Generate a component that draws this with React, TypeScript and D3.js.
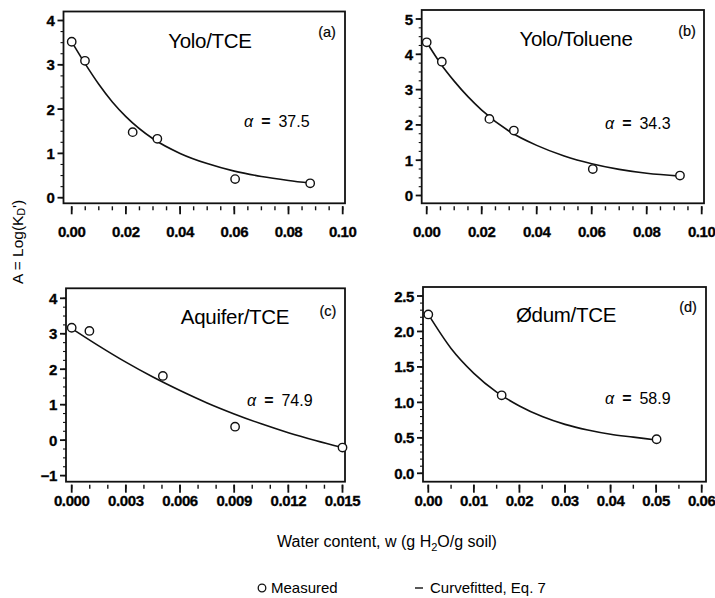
import React, { useEffect, useRef } from "react";
import * as d3 from "d3";

// measured points
const yoloTceW = [0, 0.0049, 0.0225, 0.0316, 0.0603, 0.088];
const yoloTceA = [3.52, 3.09, 1.48, 1.33, 0.42, 0.325];
const yoloTolW = [0, 0.0055, 0.0228, 0.0317, 0.0604, 0.0921];
const yoloTolA = [4.34, 3.79, 2.17, 1.84, 0.75, 0.565];
const aquiferW = [0, 0.00098, 0.00505, 0.00905, 0.015];
const aquiferA = [3.17, 3.08, 1.81, 0.38, -0.21];
const odumW = [0, 0.0161, 0.0501];
const odumA = [2.24, 1.1, 0.48];

// curve fitted with Eq. 7
const yoloTceFitW = [0, 0.005, 0.01, 0.015, 0.02, 0.03, 0.04, 0.05, 0.06, 0.07, 0.08, 0.088];
const yoloTceFitA = [3.52, 3.02, 2.56, 2.16, 1.83, 1.33, 1.0, 0.77, 0.6, 0.48, 0.39, 0.33];
const yoloTolFitW = [0, 0.005, 0.01, 0.015, 0.02, 0.03, 0.04, 0.05, 0.06, 0.07, 0.08, 0.0921];
const yoloTolFitA = [4.34, 3.74, 3.24, 2.8, 2.42, 1.82, 1.42, 1.12, 0.9, 0.74, 0.63, 0.55];
const aquiferFitW = [0, 0.0015, 0.003, 0.0045, 0.006, 0.0075, 0.009, 0.0105, 0.012, 0.0135, 0.015];
const aquiferFitA = [3.15, 2.66, 2.2, 1.78, 1.4, 1.05, 0.74, 0.46, 0.21, -0.01, -0.21];
const odumFitW = [0, 0.005, 0.01, 0.015, 0.02, 0.025, 0.03, 0.035, 0.04, 0.045, 0.05];
const odumFitA = [2.24, 1.76, 1.41, 1.145, 0.95, 0.8, 0.69, 0.61, 0.55, 0.51, 0.47];

// tick labels
const xTicksTop = [0, 0.02, 0.04, 0.06, 0.08, 0.1];
const xTicksAquifer = [0, 0.003, 0.006, 0.009, 0.012, 0.015];
const xTicksOdum = [0, 0.01, 0.02, 0.03, 0.04, 0.05, 0.06];
const yTicksA = [0, 1, 2, 3, 4];
const yTicksB = [0, 1, 2, 3, 4, 5];
const yTicksC = [-1, 0, 1, 2, 3, 4];
const yTicksD = [0, 0.5, 1.0, 1.5, 2.0, 2.5];

const panels = [
  {
    tag: "(a)", title: "Yolo/TCE", alpha: "37.5",
    w: yoloTceW, A: yoloTceA, fitW: yoloTceFitW, fitA: yoloTceFitA,
    xTicks: xTicksTop, xFmt: ".2f", xMinor: 0.005,
    yTicks: yTicksA, yFmt: "d", yMinor: 0.25,
    box: [63.5, 11.5, 345, 203.3], xr: [71.7, 342.7], yr: [197.7, 20.5], labelDy: 28,
    titlePos: [210, 48], tagPos: [327, 37], alphaPos: [244, 121],
  },
  {
    tag: "(b)", title: "Yolo/Toluene", alpha: "34.3",
    w: yoloTolW, A: yoloTolA, fitW: yoloTolFitW, fitA: yoloTolFitA,
    xTicks: xTicksTop, xFmt: ".2f", xMinor: 0.005,
    yTicks: yTicksB, yFmt: "d", yMinor: 0.25,
    box: [421.7, 10, 704, 203.3], xr: [426.7, 701.7], yr: [195.5, 19], labelDy: 28,
    titlePos: [576, 46], tagPos: [687, 36], alphaPos: [605, 123],
  },
  {
    tag: "(c)", title: "Aquifer/TCE", alpha: "74.9",
    w: aquiferW, A: aquiferA, fitW: aquiferFitW, fitA: aquiferFitA,
    xTicks: xTicksAquifer, xFmt: ".3f", xMinor: 0.001,
    yTicks: yTicksC, yFmt: "d", yMinor: 0.25,
    box: [66, 288.3, 345, 481.7], xr: [71.7, 342.5], yr: [475.6, 298.3], labelDy: 19,
    titlePos: [235, 324], tagPos: [328, 316], alphaPos: [247, 400],
  },
  {
    tag: "(d)", title: "Ødum/TCE", alpha: "58.9",
    w: odumW, A: odumA, fitW: odumFitW, fitA: odumFitA,
    xTicks: xTicksOdum, xFmt: ".2f", xMinor: 0.005,
    yTicks: yTicksD, yFmt: ".1f", yMinor: 0.1,
    box: [423, 287, 706, 481.7], xr: [428.3, 701.7], yr: [473.3, 296], labelDy: 19,
    titlePos: [566, 322], tagPos: [688, 312], alphaPos: [605, 398],
  },
];

const FONT = "Arial, 'Liberation Sans', Helvetica, sans-serif";

const App = () => {
  const chartRef = useRef(null);

  useEffect(() => {
    const svg = d3.select(chartRef.current);
    svg.selectAll("*").remove();

    panels.forEach((p) => {
      const x = d3.scaleLinear().domain([p.xTicks[0], p.xTicks[p.xTicks.length - 1]]).range(p.xr);
      const y = d3.scaleLinear().domain([p.yTicks[0], p.yTicks[p.yTicks.length - 1]]).range(p.yr);
      const [bl, bt, br, bb] = p.box;
      const g = svg.append("g");

      g.append("rect")
        .attr("x", bl).attr("y", bt)
        .attr("width", br - bl).attr("height", bb - bt)
        .attr("fill", "none").attr("stroke", "#111").attr("stroke-width", 1.8);

      // x ticks hang a little below the frame
      const xMinorTicks = d3.range(p.xTicks[0], p.xTicks[p.xTicks.length - 1] + p.xMinor / 2, p.xMinor);
      g.selectAll(".xminor").data(xMinorTicks).enter().append("line")
        .attr("x1", (d) => x(d)).attr("x2", (d) => x(d))
        .attr("y1", bb + 3).attr("y2", bb + 7)
        .attr("stroke", "#111").attr("stroke-width", 1.4);
      g.selectAll(".xmajor").data(p.xTicks).enter().append("line")
        .attr("x1", (d) => x(d)).attr("x2", (d) => x(d))
        .attr("y1", bb + 3).attr("y2", bb + 11)
        .attr("stroke", "#111").attr("stroke-width", 1.8);
      g.selectAll(".xlab").data(p.xTicks).enter().append("text")
        .attr("x", (d) => x(d)).attr("y", bb + p.labelDy)
        .attr("text-anchor", "middle").attr("dominant-baseline", "central")
        .attr("font-family", FONT).attr("font-weight", "bold").attr("font-size", 15)
        .attr("letter-spacing", -0.4)
        .attr("stroke", "#111").attr("stroke-width", 0.35)
        .text((d) => d3.format(p.xFmt)(d));

      // y ticks on the left edge
      const yMinorTicks = d3.range(p.yTicks[0], p.yTicks[p.yTicks.length - 1] + p.yMinor / 2, p.yMinor);
      g.selectAll(".yminor").data(yMinorTicks).enter().append("line")
        .attr("x1", bl - 3).attr("x2", bl)
        .attr("y1", (d) => y(d)).attr("y2", (d) => y(d))
        .attr("stroke", "#111").attr("stroke-width", 1.1);
      g.selectAll(".ymajor").data(p.yTicks).enter().append("line")
        .attr("x1", bl - 6).attr("x2", bl)
        .attr("y1", (d) => y(d)).attr("y2", (d) => y(d))
        .attr("stroke", "#111").attr("stroke-width", 1.8);
      g.selectAll(".ylab").data(p.yTicks).enter().append("text")
        .attr("x", bl - 9).attr("y", (d) => y(d))
        .attr("text-anchor", "end").attr("dominant-baseline", "central")
        .attr("font-family", FONT).attr("font-weight", "bold").attr("font-size", 15)
        .attr("letter-spacing", -0.4)
        .attr("stroke", "#111").attr("stroke-width", 0.35)
        .text((d) => (d < 0 ? "\u2212" + Math.abs(d) : d3.format(p.yFmt)(d)));

      // fitted curve
      const line = d3.line<number>()
        .x((d, i) => x(p.fitW[i]))
        .y((d) => y(d))
        .curve(d3.curveMonotoneX);
      g.append("path")
        .attr("d", line(p.fitA))
        .attr("fill", "none").attr("stroke", "#111").attr("stroke-width", 1.6);

      // measured points
      g.selectAll(".pt").data(p.A).enter().append("circle")
        .attr("cx", (d, i) => x(p.w[i])).attr("cy", (d) => y(d))
        .attr("r", 4.2).attr("fill", "#fff").attr("stroke", "#111").attr("stroke-width", 1.4);

      g.append("text")
        .attr("x", p.titlePos[0]).attr("y", p.titlePos[1])
        .attr("text-anchor", "middle")
        .attr("font-family", FONT).attr("font-size", 20.5)
        .attr("letter-spacing", -0.3)
        .text(p.title);
      g.append("text")
        .attr("x", p.tagPos[0]).attr("y", p.tagPos[1])
        .attr("text-anchor", "middle")
        .attr("font-family", FONT).attr("font-size", 14.5)
        .attr("stroke", "#111").attr("stroke-width", 0.2)
        .text(p.tag);

      const at = g.append("text")
        .attr("x", p.alphaPos[0]).attr("y", p.alphaPos[1])
        .attr("dominant-baseline", "central")
        .attr("font-family", FONT).attr("font-size", 16);
      at.append("tspan").attr("font-style", "italic").text("\u03b1");
      at.append("tspan").attr("dx", 8).attr("font-weight", "bold").text("=");
      at.append("tspan").attr("dx", 8).text(p.alpha);
    });

    // shared axis titles
    const yt = svg.append("text")
      .attr("transform", "translate(17,242) rotate(-90)")
      .attr("text-anchor", "middle").attr("dominant-baseline", "central")
      .attr("font-family", FONT).attr("font-size", 15.5);
    yt.append("tspan").text("A = Log(K");
    yt.append("tspan").attr("font-size", 10.5).attr("dy", 4).text("D");
    yt.append("tspan").attr("dy", -4).text("')");

    const xt = svg.append("text")
      .attr("x", 387).attr("y", 547)
      .attr("text-anchor", "middle")
      .attr("font-family", FONT).attr("font-size", 16);
    xt.append("tspan").text("Water content, w (g H");
    xt.append("tspan").attr("font-size", 11).attr("dy", 4).text("2");
    xt.append("tspan").attr("dy", -4).text("O/g soil)");

    // legend
    svg.append("circle")
      .attr("cx", 262).attr("cy", 588).attr("r", 3.8)
      .attr("fill", "#fff").attr("stroke", "#111").attr("stroke-width", 1.3);
    svg.append("text")
      .attr("x", 271).attr("y", 593)
      .attr("font-family", FONT).attr("font-size", 15)
      .text("Measured");
    svg.append("line")
      .attr("x1", 415).attr("x2", 423).attr("y1", 588).attr("y2", 588)
      .attr("stroke", "#111").attr("stroke-width", 1.4);
    svg.append("text")
      .attr("x", 430).attr("y", 593)
      .attr("font-family", FONT).attr("font-size", 15)
      .text("Curvefitted, Eq. 7");
  }, []);

  return (
    <svg
      ref={chartRef}
      width={715}
      height={598}
      style={{ position: "absolute", left: 0, top: 0, background: "#fff" }}
    />
  );
};

export default App;
